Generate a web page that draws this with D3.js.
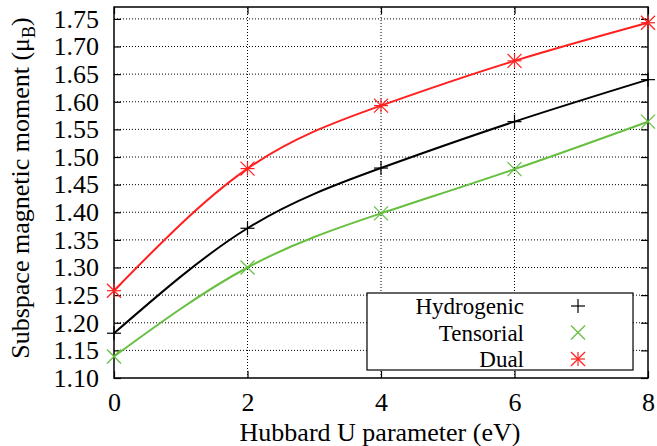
<!DOCTYPE html>
<html lang="en">
<head>
<meta charset="UTF-8">
<title>Subspace magnetic moment</title>
<script src="https://d3js.org/d3.v7.min.js"></script>
<style>
  body { margin: 0; background: #fff; }
  text { font-family: "Liberation Serif", "DejaVu Serif", serif; fill: #000; }
</style>
</head>
<body>
<script>
// data
var hubbardU = [0, 2, 4, 6, 8];
var hydrogenic = [1.181, 1.371, 1.480, 1.564, 1.640];
var tensorial = [1.139, 1.300, 1.398, 1.478, 1.564];
var dual = [1.258, 1.479, 1.593, 1.674, 1.743];
var seriesNames = ["Hydrogenic", "Tensorial", "Dual"];
var seriesColors = ["#000000", "#66bf3f", "#ff2020"];
var xTicks = [0, 2, 4, 6, 8];
var yTicks = d3.range(1.10, 1.7501, 0.05);

var w = 657, h = 446;
var margin = {left: 114, right: 9, top: 7, bottom: 68};
var fontSize = "26px";

var svg = d3.select("body").append("svg")
    .attr("width", w)
    .attr("height", h);

var x = d3.scaleLinear().domain([0, 8]).range([margin.left, w - margin.right]);
var y = d3.scaleLinear().domain([1.10, 1.7715]).range([h - margin.bottom, margin.top]);

// grid lines (dotted)
svg.append("g").selectAll("line.gy")
    .data(yTicks.slice(1))
    .enter().append("line")
    .attr("x1", x(0)).attr("x2", x(8))
    .attr("y1", function(d) { return y(d); })
    .attr("y2", function(d) { return y(d); })
    .attr("stroke", "#000")
    .attr("stroke-width", 1)
    .attr("stroke-dasharray", "1,2");

svg.append("g").selectAll("line.gx")
    .data([2, 4, 6])
    .enter().append("line")
    .attr("y1", y.range()[0]).attr("y2", y.range()[1])
    .attr("x1", function(d) { return x(d); })
    .attr("x2", function(d) { return x(d); })
    .attr("stroke", "#000")
    .attr("stroke-width", 1)
    .attr("stroke-dasharray", "1,2");

// axes, ticks inward on all four sides
var tickLen = 7;
svg.append("g")
    .attr("transform", "translate(0," + y.range()[0] + ")")
    .call(d3.axisBottom(x).tickValues(xTicks).tickSize(-tickLen).tickPadding(15).tickFormat(d3.format("d")))
    .call(function(g) { g.select(".domain").remove(); });
svg.append("g")
    .attr("transform", "translate(0," + y.range()[1] + ")")
    .call(d3.axisTop(x).tickValues(xTicks).tickSize(-tickLen).tickFormat(""))
    .call(function(g) { g.select(".domain").remove(); });
svg.append("g")
    .attr("transform", "translate(" + x(0) + ",0)")
    .call(d3.axisLeft(y).tickValues(yTicks).tickSize(-tickLen).tickPadding(15).tickFormat(d3.format(".2f")))
    .call(function(g) { g.select(".domain").remove(); });
svg.append("g")
    .attr("transform", "translate(" + x(8) + ",0)")
    .call(d3.axisRight(y).tickValues(yTicks).tickSize(-tickLen).tickFormat(""))
    .call(function(g) { g.select(".domain").remove(); });

svg.selectAll(".tick text")
    .style("font-family", "'Liberation Serif', serif")
    .style("font-size", fontSize);
svg.selectAll(".tick line").attr("stroke-width", 1.2);

// frame
svg.append("rect")
    .attr("x", x(0)).attr("y", y.range()[1])
    .attr("width", x(8) - x(0))
    .attr("height", y.range()[0] - y.range()[1])
    .attr("fill", "none")
    .attr("stroke", "#000")
    .attr("stroke-width", 1.5);

// curves
var allSeries = [hydrogenic, tensorial, dual];
var line = d3.line()
    .x(function(d, i) { return x(hubbardU[i]); })
    .y(function(d) { return y(d); })
    .curve(d3.curveNatural);

var plot = svg.append("g");
allSeries.forEach(function(vals, k) {
    plot.append("path")
        .attr("d", line(vals))
        .attr("fill", "none")
        .attr("stroke", seriesColors[k])
        .attr("stroke-width", 2);
});

// markers
function marker(g, kind, cx, cy, color) {
    var s = 7;
    var segs = [];
    if (kind === 0 || kind === 2) {
        segs.push([-s, 0, s, 0], [0, -s, 0, s]);
    }
    if (kind === 1 || kind === 2) {
        segs.push([-s, -s, s, s], [-s, s, s, -s]);
    }
    segs.forEach(function(sg) {
        g.append("line")
            .attr("x1", cx + sg[0]).attr("y1", cy + sg[1])
            .attr("x2", cx + sg[2]).attr("y2", cy + sg[3])
            .attr("stroke", color)
            .attr("stroke-width", 1.2);
    });
}
allSeries.forEach(function(vals, k) {
    vals.forEach(function(v, i) {
        marker(plot, k, x(hubbardU[i]), y(v), seriesColors[k]);
    });
});

// legend
var lg = svg.append("g");
lg.append("rect")
    .attr("x", 367).attr("y", 293)
    .attr("width", 266).attr("height", 77)
    .attr("fill", "#fff")
    .attr("stroke", "#000")
    .attr("stroke-width", 1.2);
seriesNames.forEach(function(name, k) {
    var cy = 306 + k * 26.5;
    lg.append("text")
        .attr("x", 524).attr("y", cy + 8)
        .attr("text-anchor", "end")
        .style("font-size", "23px")
        .text(name);
    marker(lg, k, 578, cy, seriesColors[k]);
});

// axis titles
svg.append("text")
    .attr("x", 380).attr("y", 441)
    .attr("text-anchor", "middle")
    .style("font-size", fontSize)
    .text("Hubbard U parameter (eV)");

var yl = svg.append("text")
    .attr("transform", "translate(29," + 188 + ") rotate(-90)")
    .attr("text-anchor", "middle")
    .style("font-size", fontSize);
yl.append("tspan").text("Subspace magnetic moment (\u03BC");
yl.append("tspan").attr("dy", 6).style("font-size", "18px").text("B");
yl.append("tspan").attr("dy", -6).text(")");
</script>
</body>
</html>
